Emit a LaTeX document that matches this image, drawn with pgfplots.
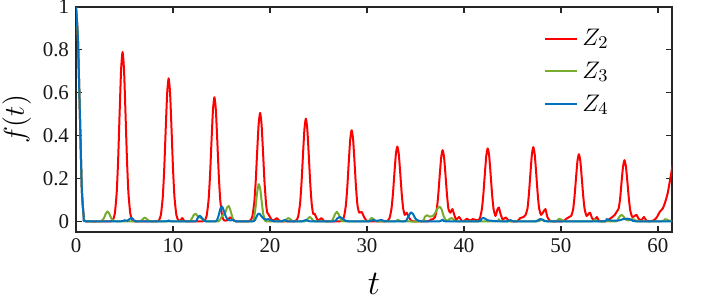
\documentclass[border=0pt]{standalone}
\usepackage{fontspec}
\setmainfont{Liberation Serif}
\usepackage{pgfplots}
\pgfplotsset{compat=1.18}
\definecolor{mred}{rgb}{1,0,0}
\definecolor{mgreen}{HTML}{77AC30}
\definecolor{mblue}{HTML}{0072BD}
\definecolor{axgray}{HTML}{262626}
\begin{document}
\begin{tikzpicture}
\useasboundingbox (-38bp,-33.5bp) rectangle (315bp,116bp);
\begin{axis}[
  scale only axis,
  width=298bp, height=112.5bp,
  xmin=0, xmax=61.45, ymin=-0.05, ymax=1,
  xtick={0,10,20,30,40,50,60},
  ytick={0,0.2,0.4,0.6,0.8,1},
  yticklabels={0,0.2,0.4,0.6,0.8,1},
  /pgf/number format/assume math mode=true,
  tick label style={font=\fontsize{10.5}{12}\selectfont, text=black!90},
  axis line style={axgray, line width=0.6pt},
  major tick style={axgray, line width=0.6pt},
  major tick length=3bp,
  tick align=inside,
  xlabel={$t$}, ylabel={$f(t)$},
  label style={font=\fontsize{14}{16}\selectfont},
  xlabel style={font=\fontsize{16}{18}\selectfont, yshift=-3bp},
  ylabel style={yshift=-1bp},
  legend style={draw=none, fill=none, at={(0.775,0.94)}, anchor=north west,
    font=\fontsize{12.5}{15}\selectfont, row sep=2.8bp},
  legend cell align=left,
  legend image code/.code={\draw[#1] (0bp,0bp) -- (16bp,0bp);},
  every axis plot/.append style={line width=1bp, line join=round, smooth, tension=0.35},
]
\addplot[mred] coordinates {
(0,1)(0.2,0.85)(0.4,0.5)(0.6,0.15)(0.8,0.02)(1.0,0)
(3.6,0)(3.8,0.006)(4.0,0.035)(4.2,0.136)(4.35,0.294)(4.5,0.509)(4.65,0.708)(4.8,0.79)(4.95,0.708)(5.1,0.509)(5.25,0.294)(5.4,0.136)(5.6,0.035)(5.8,0.006)(6.0,0)
(8.35,0)(8.55,0.005)(8.75,0.029)(8.95,0.115)(9.1,0.248)(9.25,0.43)(9.4,0.598)(9.55,0.667)(9.7,0.598)(9.85,0.43)(10.0,0.248)(10.15,0.115)(10.35,0.029)(10.55,0.005)
(10.75,0.002)(10.95,0.015)(11.15,0.002)(11.4,0)
(13.07,0)(13.27,0.004)(13.47,0.025)(13.67,0.1)(13.82,0.215)(13.97,0.373)(14.12,0.519)(14.27,0.579)(14.42,0.519)(14.57,0.373)(14.72,0.215)(14.87,0.1)(15.07,0.025)(15.27,0.004)
(15.6,0.005)(15.9,0.018)(16.2,0.008)(16.5,0)
(17.78,0)(17.98,0.004)(18.18,0.022)(18.38,0.087)(18.53,0.188)(18.68,0.326)(18.83,0.453)(18.98,0.506)(19.13,0.453)(19.28,0.326)(19.43,0.188)(19.6,0.08)(19.72,0.04)(19.85,0.032)(20.0,0.02)(20.2,0.005)(20.45,0.005)(20.7,0.015)(20.95,0.003)(21.2,0)
(22.5,0)(22.7,0.004)(22.9,0.021)(23.1,0.082)(23.25,0.178)(23.4,0.308)(23.55,0.429)(23.7,0.479)(23.85,0.429)(24.0,0.308)(24.15,0.178)(24.3,0.082)(24.45,0.035)(24.6,0.036)(24.8,0.015)(25.0,0.003)(25.3,0.015)(25.55,0.002)(25.8,0)
(27.22,0)(27.42,0.003)(27.62,0.019)(27.82,0.073)(27.97,0.158)(28.12,0.274)(28.27,0.381)(28.42,0.425)(28.57,0.381)(28.72,0.274)(28.87,0.158)(29.02,0.075)(29.2,0.04)(29.45,0.044)(29.7,0.02)(29.95,0.003)(30.2,0)
(31.9,0)(32.13,0.003)(32.33,0.015)(32.53,0.06)(32.68,0.13)(32.83,0.225)(32.98,0.313)(33.13,0.349)(33.28,0.313)(33.43,0.225)(33.58,0.13)(33.73,0.06)(33.9,0.03)(34.1,0.04)(34.3,0.02)(34.55,0.003)(34.8,0)
(36.3,0)(36.6,0.008)(36.8,0.01)(37.0,0.018)(37.2,0.057)(37.35,0.124)(37.5,0.214)(37.65,0.297)(37.8,0.332)(37.95,0.297)(38.1,0.214)(38.25,0.124)(38.4,0.057)(38.6,0.04)(38.8,0.057)(39.0,0.03)(39.2,0.008)(39.5,0.02)(39.75,0.003)(40.0,0)
(40.3,0.012)(40.6,0.003)(40.9,0.01)(41.25,0.006)(41.45,0.005)(41.65,0.015)(41.85,0.058)(42.0,0.126)(42.15,0.219)(42.3,0.305)(42.45,0.34)(42.6,0.305)(42.75,0.219)(42.9,0.126)(43.05,0.058)(43.25,0.025)(43.45,0.055)(43.6,0.064)(43.8,0.03)(44.0,0.008)(44.3,0.018)(44.6,0.003)(44.9,0)
(45.5,0)(45.8,0.015)(46.15,0.02)(46.35,0.03)(46.55,0.06)(46.7,0.129)(46.85,0.223)(47.0,0.31)(47.15,0.346)(47.3,0.31)(47.45,0.223)(47.6,0.129)(47.75,0.06)(47.95,0.03)(48.2,0.045)(48.4,0.057)(48.6,0.02)(48.85,0.003)(49.1,0)
(50.2,0)(50.5,0.01)(50.85,0.02)(51.05,0.025)(51.25,0.054)(51.4,0.116)(51.55,0.2)(51.7,0.28)(51.85,0.313)(52.0,0.28)(52.15,0.2)(52.3,0.116)(52.45,0.054)(52.65,0.025)(52.85,0.035)(53.0,0.04)(53.2,0.015)(53.45,0.006)(53.7,0.02)(53.9,0.003)(54.2,0)
(54.6,0)(55.0,0.01)(55.3,0.02)(55.55,0.03)(55.75,0.045)(55.95,0.06)(56.1,0.106)(56.25,0.184)(56.4,0.255)(56.55,0.285)(56.7,0.255)(56.85,0.184)(57.0,0.106)(57.15,0.049)(57.35,0.02)(57.6,0.025)(57.8,0.03)(58.0,0.012)(58.3,0.005)(58.55,0.02)(58.8,0.003)(59.1,0)
(59.6,0.005)(59.9,0.02)(60.2,0.045)(60.5,0.06)(60.75,0.09)(61.0,0.13)(61.2,0.18)(61.45,0.245)(61.6,0.28)
};
\addlegendentry{$Z_2$}
\addplot[mgreen] coordinates {
(0,1)(0.2,0.85)(0.4,0.5)(0.6,0.15)(0.8,0.02)(1.0,0)(2.6,0)
(2.65,0.003)(2.8,0.009)(2.95,0.022)(3.1,0.038)(3.25,0.046)(3.4,0.038)(3.55,0.022)(3.7,0.009)(3.85,0.003)(4.1,0)
(6.5,0)(6.7,0.003)(6.85,0.008)(7.0,0.015)(7.1,0.017)(7.25,0.013)(7.4,0.006)(7.6,0.001)(7.8,0)
(11.7,0)(11.85,0.007)(12.0,0.017)(12.15,0.03)(12.3,0.035)(12.45,0.03)(12.6,0.02)(12.8,0.018)(13.0,0.012)(13.2,0.003)(13.4,0)
(14.7,0)(14.9,0.01)(15.1,0.028)(15.25,0.032)(15.4,0.04)(15.55,0.062)(15.75,0.071)(15.9,0.055)(16.05,0.03)(16.2,0.01)(16.4,0)
(18.2,0)(18.35,0.015)(18.5,0.06)(18.65,0.125)(18.8,0.17)(18.85,0.173)(19.0,0.15)(19.15,0.09)(19.3,0.035)(19.45,0.01)(19.6,0)
(21.4,0)(21.7,0.01)(21.9,0.015)(22.1,0.01)(22.4,0)
(23.6,0)(23.9,0.012)(24.1,0.02)(24.3,0.012)(24.6,0)
(26.3,0)(26.5,0.012)(26.7,0.032)(26.9,0.044)(27.1,0.03)(27.3,0.01)(27.5,0)
(30.1,0)(30.35,0.012)(30.5,0.015)(30.7,0.01)(31.0,0)
(32.9,0)(33.2,0.008)(33.5,0)
(35.7,0)(35.95,0.02)(36.2,0.028)(36.45,0.022)(36.8,0.025)(37.05,0.04)(37.3,0.062)(37.5,0.068)(37.7,0.055)(37.9,0.025)(38.1,0.008)(38.3,0.002)(38.55,0.012)(38.75,0.015)(39.0,0.005)(39.3,0)
(43.3,0)(43.6,0.01)(43.9,0)
(47.6,0)(47.9,0.01)(48.2,0.005)(48.5,0)
(49.5,0)(49.8,0.012)(50.1,0.006)(50.4,0)
(53.2,0)(53.5,0.008)(53.8,0)
(55.7,0)(55.9,0.012)(56.1,0.025)(56.25,0.03)(56.45,0.022)(56.7,0.008)(57.0,0.004)(57.3,0.01)(57.6,0.008)(57.9,0)
(60.4,0)(60.75,0.01)(61.1,0.004)(61.6,0)
};
\addlegendentry{$Z_3$}
\addplot[mblue] coordinates {
(0,1)(0.2,0.85)(0.4,0.5)(0.6,0.15)(0.8,0.02)(1.0,0)
(4.6,0)(5.0,0.005)(5.3,0.002)(5.5,0.01)(5.7,0.016)(5.9,0.01)(6.2,0)
(9.3,0)(9.55,0.004)(9.8,0)
(12.3,0)(12.5,0.012)(12.75,0.026)(13.0,0.015)(13.2,0.003)(13.4,0)
(14.4,0)(14.6,0.012)(14.75,0.035)(14.9,0.06)(15.05,0.069)(15.2,0.055)(15.4,0.028)(15.6,0.01)(15.9,0.004)(16.2,0.006)(16.5,0)
(18.3,0)(18.55,0.015)(18.75,0.033)(18.9,0.036)(19.1,0.025)(19.35,0.012)(19.6,0.008)(19.85,0.01)(20.1,0.004)(20.4,0)
(21.2,0)(21.5,0.006)(21.8,0)
(23.3,0)(23.7,0.006)(24.1,0)
(26.6,0)(26.9,0.012)(27.2,0.02)(27.5,0.012)(27.8,0.002)(28.1,0)
(30.2,0)(30.6,0.006)(31.0,0.002)(31.5,0.006)(31.9,0)
(33.9,0)(34.1,0.008)(34.3,0.025)(34.5,0.04)(34.6,0.041)(34.8,0.03)(35.0,0.012)(35.3,0.003)(35.6,0)
(37.5,0)(37.8,0.008)(38.1,0)
(41.5,0)(41.75,0.01)(42.0,0.016)(42.25,0.01)(42.5,0.004)(43.0,0.002)(43.5,0)
(44.5,0)(44.8,0.006)(45.1,0)
(47.4,0)(47.8,0.01)(48.2,0.006)(48.6,0)
(54.3,0)(54.7,0.01)(55.1,0.004)(55.5,0.003)(56.0,0.004)(56.4,0.01)(56.9,0.012)(57.3,0.006)(57.7,0)
(61.6,0)
};
\addlegendentry{$Z_4$}
\end{axis}
\end{tikzpicture}
\end{document}
